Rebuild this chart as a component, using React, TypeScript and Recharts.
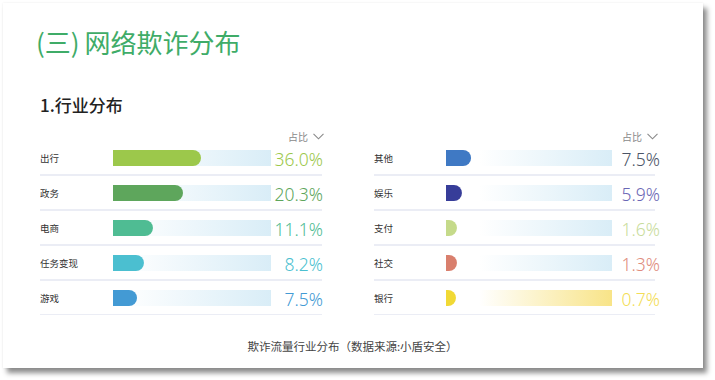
import React from 'react';
import { BarChart, Bar, XAxis, YAxis, Cell } from 'recharts';

// left column
const leftCategories = ['出行', '政务', '电商', '任务变现', '游戏'];
const leftShares = [36.0, 20.3, 11.1, 8.2, 7.5];
// bar length as drawn in the infographic (% of track), not proportional to share
const leftBarLengths = [55.7, 44.3, 25.3, 19.6, 15.2];

// right column
const rightCategories = ['其他', '娱乐', '支付', '社交', '银行'];
const rightShares = [7.5, 5.9, 1.6, 1.3, 0.7];
const rightBarLengths = [15.1, 9.6, 6.6, 6.6, 6.0];

const TRACK_MAX = 100;

const LEFT_BAR_COLORS = ['#9cc84b', '#5ea65c', '#4fbc93', '#4bbfd0', '#439ad4'];
const LEFT_VALUE_COLORS = ['#9cc84b', '#5ea65c', '#4fbc93', '#4bbfd0', '#439ad4'];
const LEFT_TRACK_COLORS = ['#d9edf7', '#d9edf7', '#d9edf7', '#d9edf7', '#d9edf7'];

const RIGHT_BAR_COLORS = ['#3f79c4', '#373d99', '#c5da8a', '#d97f6d', '#f1d935'];
const RIGHT_VALUE_COLORS = ['#4b5466', '#6b67b5', '#c9dc9c', '#e08b7c', '#f3dd55'];
const RIGHT_TRACK_COLORS = ['#d9edf7', '#d9edf7', '#d9edf7', '#d9edf7', '#f8e488'];

const CJK = '"Noto Sans CJK SC", "Noto Sans", sans-serif';
const NUM = '"Noto Sans", "Noto Sans CJK SC", sans-serif';

const ROW_H = 35;
const BAR_H = 16;

function DBar(props: any) {
  const { x, y, width, height, fill } = props;
  if (!width || width <= 0) return null;
  const r = height / 2;
  const rx = Math.min(r, width);
  const d = `M${x},${y} H${x + width - rx} A${rx},${r} 0 0 1 ${x + width - rx},${y + height} H${x} Z`;
  return <path d={d} fill={fill} />;
}

function SharePanel({
  id, categories, shares, lengths, barColors, valueColors, trackColors,
  width, axisWidth, valueWidth, lineEnd, gradStart,
}: any) {
  const data = categories.map((name: string, i: number) => ({
    name,
    share: shares[i],
    length: lengths[i],
    track: TRACK_MAX,
  }));
  const height = ROW_H * categories.length;

  const RowTick = (p: any) => (
    <g>
      <text x={0} y={p.y} dominantBaseline="central" fontSize={9.5} fill="#333" fontFamily={CJK}>
        {p.payload.value}
      </text>
      <line x1={0} x2={lineEnd} y1={p.y + ROW_H / 2} y2={p.y + ROW_H / 2} stroke="#e5e7f2" strokeWidth={1.5} />
    </g>
  );

  const ValueTick = (p: any) => {
    const i = categories.indexOf(p.payload.value);
    return (
      <text
        x={width}
        y={p.y + 1}
        textAnchor="end"
        dominantBaseline="central"
        fontSize={17.5}
        fontWeight={300}
        fill={valueColors[i]}
        fontFamily={NUM}
      >
        {`${shares[i].toFixed(1)}%`}
      </text>
    );
  };

  return (
    <BarChart
      width={width}
      height={height}
      data={data}
      layout="vertical"
      margin={{ top: 0, right: 0, bottom: 0, left: 0 }}
      barGap={-BAR_H}
    >
      <defs>
        {trackColors.map((c: string, i: number) => (
          <linearGradient key={i} id={`${id}-track-${i}`} x1="0" y1="0" x2="1" y2="0">
            <stop offset="0" stopColor="#ffffff" />
            <stop offset={gradStart} stopColor="#ffffff" />
            <stop offset="1" stopColor={c} />
          </linearGradient>
        ))}
      </defs>
      <XAxis type="number" domain={[0, TRACK_MAX]} hide />
      <YAxis
        yAxisId="cat"
        type="category"
        dataKey="name"
        width={axisWidth}
        axisLine={false}
        tickLine={false}
        interval={0}
        tick={RowTick}
      />
      <YAxis
        yAxisId="val"
        orientation="right"
        type="category"
        dataKey="name"
        width={valueWidth}
        axisLine={false}
        tickLine={false}
        interval={0}
        tick={ValueTick}
      />
      <Bar yAxisId="cat" dataKey="track" barSize={BAR_H} isAnimationActive={false}>
        {data.map((_: any, i: number) => (
          <Cell key={i} fill={`url(#${id}-track-${i})`} />
        ))}
      </Bar>
      <Bar yAxisId="cat" dataKey="length" barSize={BAR_H} isAnimationActive={false} shape={(p: any) => <DBar {...p} />}>
        {data.map((_: any, i: number) => (
          <Cell key={i} fill={barColors[i]} />
        ))}
      </Bar>
    </BarChart>
  );
}

function Header({ left }: { left: number }) {
  return (
    <div style={{ position: 'absolute', left, top: 129, display: 'flex', alignItems: 'center', gap: 5 }}>
      <span style={{ fontFamily: CJK, fontSize: 10, color: '#8a8a8a' }}>占比</span>
      <svg width={11} height={7}>
        <polyline points="0.5,0.8 5.5,5.8 10.5,0.8" fill="none" stroke="#8a8a8a" strokeWidth={1.1} />
      </svg>
    </div>
  );
}

export default function App() {
  return (
    <div style={{ position: 'absolute', left: 0, top: 0, width: 715, height: 380, background: '#fff', overflow: 'hidden' }}>
      <div
        style={{
          position: 'absolute', left: 3, top: 3, width: 700, height: 365, background: '#fff',
          boxShadow: '4px 5px 5px rgba(0,0,0,0.45), 0 0 2px rgba(0,0,0,0.08)',
        }}
      />
      <div style={{ position: 'absolute', left: 36, top: 26, fontFamily: CJK, fontSize: 26, color: '#3fac68', whiteSpace: 'nowrap', lineHeight: '32px' }}>
        (三)<span style={{ marginLeft: 5 }}>网络欺诈分布</span>
      </div>
      <div style={{ position: 'absolute', left: 40, top: 93, fontFamily: CJK, fontSize: 17, fontWeight: 500, color: '#222', whiteSpace: 'nowrap', lineHeight: '24px' }}>
        1.行业分布
      </div>

      <Header left={288} />
      <Header left={622} />

      <div style={{ position: 'absolute', left: 40, top: 140 }}>
        <SharePanel
          id="l"
          categories={leftCategories}
          shares={leftShares}
          lengths={leftBarLengths}
          barColors={LEFT_BAR_COLORS}
          valueColors={LEFT_VALUE_COLORS}
          trackColors={LEFT_TRACK_COLORS}
          width={283}
          axisWidth={73}
          valueWidth={52}
          lineEnd={282}
          gradStart={0.05}
        />
      </div>
      <div style={{ position: 'absolute', left: 374, top: 140 }}>
        <SharePanel
          id="r"
          categories={rightCategories}
          shares={rightShares}
          lengths={rightBarLengths}
          barColors={RIGHT_BAR_COLORS}
          valueColors={RIGHT_VALUE_COLORS}
          trackColors={RIGHT_TRACK_COLORS}
          width={286}
          axisWidth={72}
          valueWidth={48}
          lineEnd={281}
          gradStart={0.2}
        />
      </div>

      <div style={{ position: 'absolute', left: 0, width: 705, top: 337, textAlign: 'center', fontFamily: CJK, fontSize: 11.5, color: '#444', lineHeight: '18px' }}>
        欺诈流量行业分布（数据来源:小盾安全）
      </div>
    </div>
  );
}
